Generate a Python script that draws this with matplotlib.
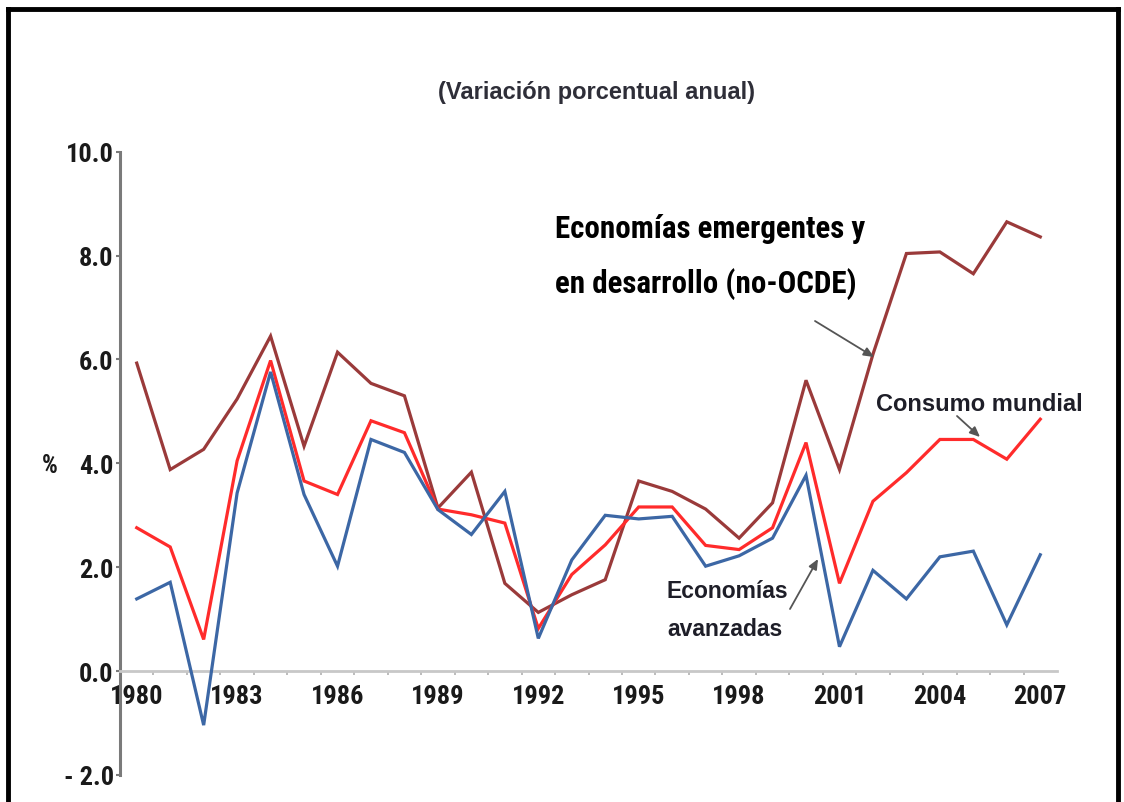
import matplotlib
matplotlib.use("Agg")
import matplotlib.pyplot as plt
from matplotlib import font_manager
from matplotlib.lines import Line2D
from matplotlib.patches import FancyArrowPatch

# ---------------- data ----------------
years = list(range(1980, 2008))
emergentes = [5.93, 3.88, 4.27, 5.24, 6.45, 4.33, 6.14, 5.54, 5.30, 3.14,
              3.83, 1.69, 1.13, 1.47, 1.76, 3.66, 3.46, 3.12, 2.56, 3.24,
              5.60, 3.88, 6.10, 8.04, 8.07, 7.65, 8.65, 8.36]
mundial = [2.76, 2.39, 0.61, 4.05, 5.98, 3.66, 3.40, 4.82, 4.59, 3.12,
           3.01, 2.85, 0.82, 1.86, 2.43, 3.16, 3.16, 2.42, 2.34, 2.76,
           4.40, 1.69, 3.27, 3.82, 4.46, 4.46, 4.08, 4.85]
avanzadas = [1.39, 1.71, -1.04, 3.43, 5.76, 3.40, 2.02, 4.46, 4.21, 3.11,
             2.63, 3.46, 0.63, 2.14, 3.00, 2.93, 2.98, 2.02, 2.22, 2.56,
             3.77, 0.47, 1.94, 1.39, 2.20, 2.31, 0.89, 2.24]
xtick_years = [1980, 1983, 1986, 1989, 1992, 1995, 1998, 2001, 2004, 2007]
yticks = [-2, 0, 2, 4, 6, 8, 10]
ytick_labels = ["- 2.0", "0.0", "2.0", "4.0", "6.0", "8.0", "10.0"]

# ---------------- fonts ----------------
ttf = font_manager.fontManager.ttflist
names = {f.name for f in ttf}
NARROW = None
NSTRETCH = "normal"
NSCALE = 1.0
for nm in ["Liberation Sans Narrow", "Arial Narrow", "Roboto Condensed",
           "Open Sans Condensed", "Noto Sans Condensed"]:
    if nm in names:
        NARROW = nm
        break
if NARROW is None:
    for nm in ["Noto Sans", "Open Sans", "Roboto"]:
        cond = [f for f in ttf if f.name == nm and str(f.stretch) in
                ("condensed", "semi-condensed", "extra-condensed", "75", "87.5")]
        if cond:
            NARROW = nm
            NSTRETCH = "condensed"
            NSCALE = 0.95
            break
if NARROW is None:
    NARROW = "Liberation Sans"
    NSCALE = 0.82
WIDE = "Liberation Sans"

W, H = 1124, 803
fig = plt.figure(figsize=(W / 100, H / 100), dpi=100)
fig.patch.set_facecolor("white")


def fx(px):
    return px / W


def fy(py):
    return 1 - py / H


def nfont(size):
    return dict(family=NARROW, fontstretch=NSTRETCH, fontweight="bold",
                fontsize=size * NSCALE)


# axes: x from 120 to 1057 px, y from 152.7 (10) to 776 (-2)
ax = fig.add_axes([fx(120), fy(776), fx(1057) - fx(120), fy(152.7) - fy(776)])
ax.set_facecolor("none")

x = list(range(len(years)))
c_emer = "#9A3A3A"
c_mund = "#FF2B2B"
c_avan = "#3C67A5"
ax.plot(x, emergentes, color=c_emer, lw=2.3, solid_joinstyle="miter", zorder=3)
ax.plot(x, mundial, color=c_mund, lw=2.3, solid_joinstyle="miter", zorder=4)
ax.plot(x, avanzadas, color=c_avan, lw=2.3, solid_joinstyle="miter", zorder=5)

ax.set_xlim(-0.5, len(years) - 0.5)
ax.set_ylim(-2, 10)

for s in ["top", "right"]:
    ax.spines[s].set_visible(False)
ax.spines["left"].set_color("#7a7a7a")
ax.spines["left"].set_linewidth(2.2)
ax.spines["bottom"].set_position(("data", 0))
ax.spines["bottom"].set_color("#c8c8c8")
ax.spines["bottom"].set_linewidth(2.0)

ax.set_yticks(yticks)
ax.set_yticklabels(ytick_labels)
ax.tick_params(axis="y", direction="out", length=3, width=1.5, color="#7a7a7a",
               pad=1.5)
for t in ax.get_yticklabels():
    t.set(**nfont(19), color="#1a1a1a")

ax.set_xticks([years.index(yy) for yy in xtick_years])
ax.set_xticklabels([str(yy) for yy in xtick_years])
ax.set_xticks([i + 0.5 for i in range(len(years) - 1)], minor=True)
ax.tick_params(axis="x", which="major", length=0, pad=9)
ax.tick_params(axis="x", which="minor", direction="out", length=3, width=1.2,
               color="#b0b0b0")
for t in ax.get_xticklabels():
    t.set(**nfont(19), color="#1a1a1a")

# ---------------- texts ----------------
fig.text(fx(596), fy(92), "(Variación porcentual anual)", ha="center", va="center",
         fontsize=17, fontweight="bold", family=WIDE, color="#2e2e38")
fig.text(fx(50), fy(466), "%", ha="center", va="center", color="#1a1a1a",
         **nfont(18))

fig.text(fx(555), fy(229), "Economías emergentes y", ha="left", va="center",
         color="black", **nfont(22.3))
fig.text(fx(555), fy(284), "en desarrollo (no-OCDE)", ha="left", va="center",
         color="black", **nfont(22.3))

fig.text(fx(876), fy(405), "Consumo mundial", ha="left", va="center",
         fontsize=17, fontweight="bold", family=WIDE, color="#1e1e28")
fig.text(fx(667), fy(592), "Economías", ha="left", va="center",
         fontsize=16.5, fontweight="bold", family=WIDE, color="#1e1e28")
fig.text(fx(667), fy(630), "avanzadas", ha="left", va="center",
         fontsize=16.5, fontweight="bold", family=WIDE, color="#1e1e28")

arrow_kw = dict(arrowstyle="-|>,head_length=0.5,head_width=0.22", color="#555555",
                lw=1.3, shrinkA=0, shrinkB=0)
for (x0, y0), (x1, y1) in [((815, 322), (874, 358)),
                           ((957, 417), (980, 438)),
                           ((790, 610), (818, 560))]:
    fig.patches.append(FancyArrowPatch(
        (fx(x0), fy(y0)), (fx(x1), fy(y1)), transform=fig.transFigure,
        mutation_scale=12, **arrow_kw))

# ---------------- border ----------------
bw = 3.5
fig.add_artist(Line2D([fx(8), fx(8)], [fy(10), -0.05], transform=fig.transFigure,
                      color="black", lw=bw, solid_capstyle="projecting"))
fig.add_artist(Line2D([fx(8), fx(1118)], [fy(10), fy(10)], transform=fig.transFigure,
                      color="black", lw=bw, solid_capstyle="projecting"))
fig.add_artist(Line2D([fx(1118), fx(1118)], [fy(10), -0.05], transform=fig.transFigure,
                      color="black", lw=bw, solid_capstyle="projecting"))

fig.savefig("out.png", dpi=100, facecolor="white")
